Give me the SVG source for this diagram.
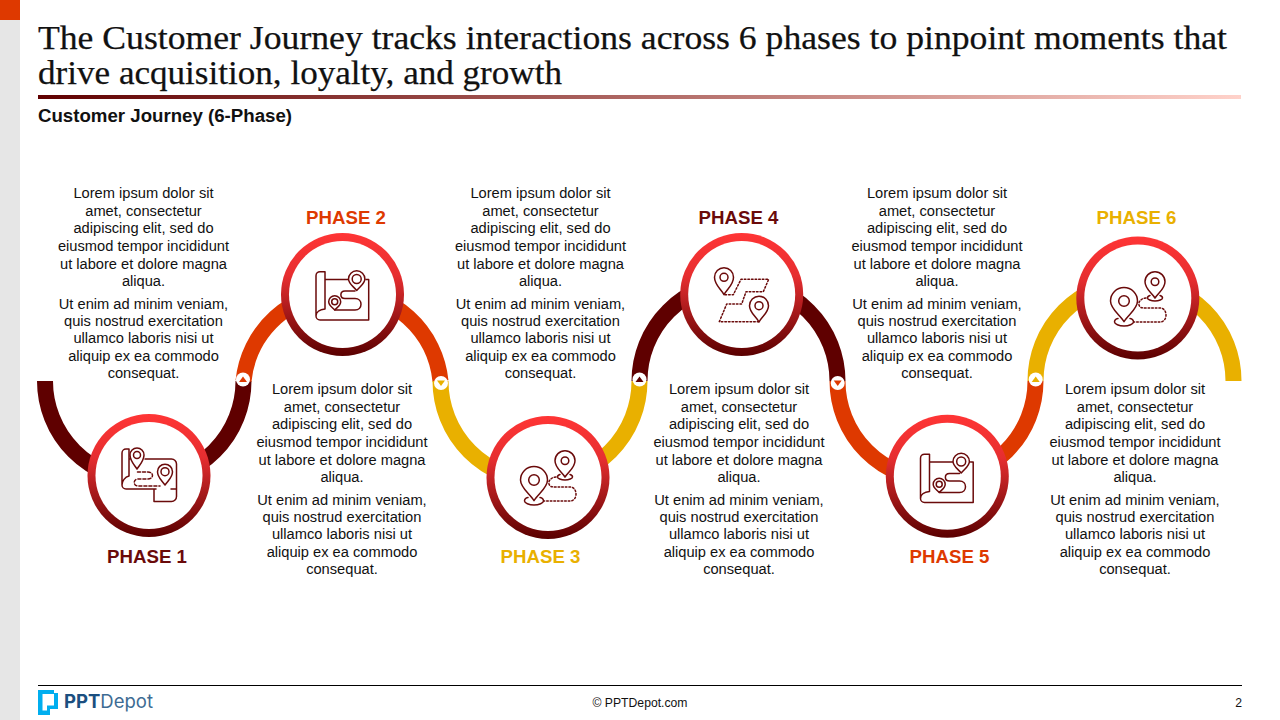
<svg xmlns="http://www.w3.org/2000/svg" xmlns:xlink="http://www.w3.org/1999/xlink" width="1280" height="720" viewBox="0 0 1280 720">
<style>
text{font-family:"Liberation Sans",Arial,sans-serif}
.title{font-family:"Liberation Serif","Times New Roman",serif;font-size:33.5px;fill:#111;stroke:#111;stroke-width:.25}
.sub{font-size:18.67px;font-weight:700;fill:#111}
.body{font-size:14.67px;fill:#111;text-anchor:middle}
.ph{font-size:18.67px;font-weight:700;text-anchor:middle}
.arc{fill:none;stroke-width:16}
.dark{stroke:#5f0000}.or{stroke:#de3900}.ye{stroke:#e9b000}
.ic{fill:none;stroke:#6a0a0a;stroke-width:1.5;stroke-linecap:round;stroke-linejoin:round}
.ds{stroke-dasharray:3 2}
.dt{stroke-dasharray:1.6 2}
.j{fill:#fff}
</style>
<defs>
<linearGradient id="rule" x1="0" x2="1" y1="0" y2="0"><stop offset="0" stop-color="#600000"/><stop offset="1" stop-color="#ffd2ca"/></linearGradient>
<linearGradient id="ring" x1="0" x2="0" y1="0" y2="1"><stop offset="0" stop-color="#ff3535"/><stop offset="0.35" stop-color="#e62e30"/><stop offset="1" stop-color="#5a0000"/></linearGradient>
<g id="disc"><circle r="61.5" fill="url(#ring)"/><circle r="53.500" fill="#fff"/></g>
<g id="mapPins">
<path class="ic" d="M325 279.500V271.700H320A4 4 0 0 0 316 275.700V316A4 4 0 0 0 320 320H368.700V279.500H366M348 279.500H325M325 279.500V309C320 309.500 316 312 316 316"/>
<path class="ic" d="M356.700 290.500C353 286 348.500 283.500 348.500 279A8.200 8.200 0 0 1 364.900 279C364.900 283.500 360.500 286 356.700 290.500Z"/><circle class="ic" cx="356.700" cy="279" r="4.500"/>
<path class="ic" d="M334.700 310C332 307 328.700 305.500 328.700 301.700A6 6 0 0 1 340.700 301.700C340.700 305.500 337.500 307 334.700 310Z"/><circle class="ic" cx="334.700" cy="301.700" r="3"/>
<path class="ic" d="M355 291H345C339.500 291 339.500 298.500 345 298.500H355C363 298.500 363 310 355 310H335"/>
</g>
<g id="twoPins">
<path class="ic" d="M534 500.700C530 494 520.500 488 520.500 480A13.500 13.500 0 0 1 547.500 480C547.500 488 538 494 534 500.700Z"/><circle class="ic" cx="534" cy="480" r="5.300"/>
<path class="ic" d="M528 497.500C525 498 524.500 500 524.500 501C524.500 503 529 505 534 505C539 505 543.500 503 543.500 501C543.500 500 543 498 540 497.500"/>
<path class="ic" d="M565 477C562 472 555 468 555 460.700A10 10 0 0 1 575 460.700C575 468 568 472 565 477Z"/><circle class="ic" cx="565" cy="460.700" r="3.800"/>
<path class="ic" d="M560 474.500C558 475 557.500 476 557.500 477C557.500 478.500 561 480 565 480C569 480 572.500 478.500 572.500 477C572.500 476 572 475 570 474.500"/>
<path class="ic dt" d="M556 477C551 477.500 548 481 549 484C550 487 552 487 556 487H570C578 487 578 501 570 501H544"/>
</g>
</defs>

<rect x="0" y="0" width="20" height="720" fill="#e6e6e6"/>
<rect x="0" y="0" width="20" height="20" fill="#de3900"/>
<text class="title" x="38" y="49" textLength="1189" lengthAdjust="spacingAndGlyphs">The Customer Journey tracks interactions across 6 phases to pinpoint moments that</text>
<text class="title" x="38" y="84" textLength="524" lengthAdjust="spacingAndGlyphs">drive acquisition, loyalty, and growth</text>
<rect x="38" y="95" width="1203" height="4" fill="url(#rule)"/>
<text class="sub" x="38" y="121.500">Customer Journey (6-Phase)</text>

<g id="connectors">
<path class="arc dark" d="M45 381A99 99 0 0 0 243.500 381"/>
<path class="arc or" d="M243.500 381A99 99 0 0 1 440.500 381"/>
<path class="arc ye" d="M440.500 381A99 99 0 0 0 639.500 381"/>
<path class="arc dark" d="M639.500 381A99 99 0 0 1 837.500 381"/>
<path class="arc or" d="M837.500 381A99 99 0 0 0 1035.500 381"/>
<path class="arc ye" d="M1035.500 381A99 99 0 0 1 1233.500 381"/>
<g id="junctions">
<circle class="j" cx="243" cy="379.500" r="7"/><path d="M243 376.500L247 382H239Z" fill="#de3900"/>
<circle class="j" cx="441" cy="383" r="7"/><path d="M441 386L445 380.500H437Z" fill="#e9b000"/>
<circle class="j" cx="639.500" cy="379.500" r="7"/><path d="M639.500 376.500L643.500 382H635.500Z" fill="#5f0000"/>
<circle class="j" cx="837.700" cy="383" r="7"/><path d="M837.700 386L841.700 380.500H833.700Z" fill="#de3900"/>
<circle class="j" cx="1035.700" cy="379.500" r="7"/><path d="M1035.700 376.500L1039.700 382H1031.700Z" fill="#e9b000"/>
</g>
</g>

<g id="node1">
<use href="#disc" x="149" y="475.500"/>
<path class="ic" d="M129 449V476C125 477 122 481 122 485A4 4 0 0 0 126 489H154V501.500H171.500A5 5 0 0 0 176.500 496.500V464A5 5 0 0 0 171.500 459H145M129 449H126A4 4 0 0 0 122 453V485M154 489H156M171 489H176.500M129 459H130"/>
<path class="ic" d="M137 469C134.500 465 130 461 130 455A7 7 0 0 1 144 455C144 461 139.500 465 137 469Z" fill="#fff"/><circle class="ic" cx="137" cy="455" r="3.500"/>
<path class="ic" d="M165 485C162 480.500 157.500 477.500 157.500 471.700A7.500 7.500 0 0 1 172.500 471.700C172.500 477.500 168 480.500 165 485Z"/><circle class="ic" cx="165" cy="471.700" r="4"/>
<path class="ic ds" d="M137.500 472H148C154 472 154 479 148 479H138C133 479 133 486 138 486H160"/>
<text class="ph" x="147" y="562.500" fill="#6a0a0a">PHASE 1</text>
</g>
<g id="node2">
<use href="#disc" x="342.500" y="294.500"/>
<use href="#mapPins"/>
<text class="ph" x="346" y="223.500" fill="#de3900">PHASE 2</text>
</g>
<g id="node3">
<use href="#disc" x="548" y="477.500"/>
<use href="#twoPins"/>
<text class="ph" x="540.500" y="562.500" fill="#e9b000">PHASE 3</text>
</g>
<g id="node4">
<use href="#disc" x="741.700" y="294.500"/>
<path class="ic" d="M724 294.700C721 289 714.500 285 714.500 277.300A9.500 9.500 0 0 1 733.500 277.300C733.500 285 727 289 724 294.700Z"/><circle class="ic" cx="724" cy="277.300" r="4"/>
<path class="ic" d="M759 322C756 316.500 749.500 312.500 749.500 305.700A9.500 9.500 0 0 1 768.500 305.700C768.500 312.500 762 316.500 759 322Z"/><circle class="ic" cx="759" cy="305.700" r="4"/>
<path class="ic dt" d="M725 294.700H733.300L741 279.300H768.700L763.300 291.700H746L741.700 304H726.700L719.300 321.700H759"/>
<text class="ph" x="738.500" y="223.500" fill="#6a0a0a">PHASE 4</text>
</g>
<g id="node5">
<use href="#disc" x="947.300" y="476.300"/>
<use href="#mapPins" x="604.500" y="182.500"/>
<text class="ph" x="949.500" y="562.500" fill="#de3900">PHASE 5</text>
</g>
<g id="node6">
<use href="#disc" x="1137.800" y="298"/>
<use href="#twoPins" x="590" y="-179"/>
<text class="ph" x="1136.500" y="223.500" fill="#e9b000">PHASE 6</text>
</g>

<g id="copy1">
<text class="body" x="143.500"><tspan x="143.500" y="198">Lorem ipsum dolor sit</tspan><tspan x="143.500" y="216">amet, consectetur</tspan><tspan x="143.500" y="233">adipiscing elit, sed do</tspan><tspan x="143.500" y="251">eiusmod tempor incididunt</tspan><tspan x="143.500" y="268.500">ut labore et dolore magna</tspan><tspan x="143.500" y="286">aliqua.</tspan><tspan x="143.500" y="308.500">Ut enim ad minim veniam,</tspan><tspan x="143.500" y="325.500">quis nostrud exercitation</tspan><tspan x="143.500" y="343">ullamco laboris nisi ut</tspan><tspan x="143.500" y="360.500">aliquip ex ea commodo</tspan><tspan x="143.500" y="378">consequat.</tspan></text>
</g>
<g id="copy2">
<text class="body"><tspan x="342" y="394">Lorem ipsum dolor sit</tspan><tspan x="342" y="412">amet, consectetur</tspan><tspan x="342" y="429">adipiscing elit, sed do</tspan><tspan x="342" y="447">eiusmod tempor incididunt</tspan><tspan x="342" y="464.500">ut labore et dolore magna</tspan><tspan x="342" y="482">aliqua.</tspan><tspan x="342" y="504.500">Ut enim ad minim veniam,</tspan><tspan x="342" y="521.500">quis nostrud exercitation</tspan><tspan x="342" y="539">ullamco laboris nisi ut</tspan><tspan x="342" y="556.500">aliquip ex ea commodo</tspan><tspan x="342" y="574">consequat.</tspan></text>
</g>
<g id="copy3">
<text class="body"><tspan x="540.500" y="198">Lorem ipsum dolor sit</tspan><tspan x="540.500" y="216">amet, consectetur</tspan><tspan x="540.500" y="233">adipiscing elit, sed do</tspan><tspan x="540.500" y="251">eiusmod tempor incididunt</tspan><tspan x="540.500" y="268.500">ut labore et dolore magna</tspan><tspan x="540.500" y="286">aliqua.</tspan><tspan x="540.500" y="308.500">Ut enim ad minim veniam,</tspan><tspan x="540.500" y="325.500">quis nostrud exercitation</tspan><tspan x="540.500" y="343">ullamco laboris nisi ut</tspan><tspan x="540.500" y="360.500">aliquip ex ea commodo</tspan><tspan x="540.500" y="378">consequat.</tspan></text>
</g>
<g id="copy4">
<text class="body"><tspan x="739" y="394">Lorem ipsum dolor sit</tspan><tspan x="739" y="412">amet, consectetur</tspan><tspan x="739" y="429">adipiscing elit, sed do</tspan><tspan x="739" y="447">eiusmod tempor incididunt</tspan><tspan x="739" y="464.500">ut labore et dolore magna</tspan><tspan x="739" y="482">aliqua.</tspan><tspan x="739" y="504.500">Ut enim ad minim veniam,</tspan><tspan x="739" y="521.500">quis nostrud exercitation</tspan><tspan x="739" y="539">ullamco laboris nisi ut</tspan><tspan x="739" y="556.500">aliquip ex ea commodo</tspan><tspan x="739" y="574">consequat.</tspan></text>
</g>
<g id="copy5">
<text class="body"><tspan x="937" y="198">Lorem ipsum dolor sit</tspan><tspan x="937" y="216">amet, consectetur</tspan><tspan x="937" y="233">adipiscing elit, sed do</tspan><tspan x="937" y="251">eiusmod tempor incididunt</tspan><tspan x="937" y="268.500">ut labore et dolore magna</tspan><tspan x="937" y="286">aliqua.</tspan><tspan x="937" y="308.500">Ut enim ad minim veniam,</tspan><tspan x="937" y="325.500">quis nostrud exercitation</tspan><tspan x="937" y="343">ullamco laboris nisi ut</tspan><tspan x="937" y="360.500">aliquip ex ea commodo</tspan><tspan x="937" y="378">consequat.</tspan></text>
</g>
<g id="copy6">
<text class="body"><tspan x="1135" y="394">Lorem ipsum dolor sit</tspan><tspan x="1135" y="412">amet, consectetur</tspan><tspan x="1135" y="429">adipiscing elit, sed do</tspan><tspan x="1135" y="447">eiusmod tempor incididunt</tspan><tspan x="1135" y="464.500">ut labore et dolore magna</tspan><tspan x="1135" y="482">aliqua.</tspan><tspan x="1135" y="504.500">Ut enim ad minim veniam,</tspan><tspan x="1135" y="521.500">quis nostrud exercitation</tspan><tspan x="1135" y="539">ullamco laboris nisi ut</tspan><tspan x="1135" y="556.500">aliquip ex ea commodo</tspan><tspan x="1135" y="574">consequat.</tspan></text>
</g>

<g id="footer">
<rect x="38" y="685" width="1204" height="1" fill="#000"/>
<path d="M38 690H54V693H58V709H50V715H38ZM42.500 694V710.500H47V705.500H54V694Z" fill="#00aeef" fill-rule="evenodd"/>
<text x="64" y="708" font-size="18.500" font-weight="700" fill="#1b4f80" style="font-family:Inter,'Liberation Sans',sans-serif">PPT<tspan font-weight="400" fill="#3d6b93">Depot</tspan></text>
<text x="640" y="707" font-size="12.200" text-anchor="middle" fill="#111">© PPTDepot.com</text>
<text x="1242" y="707" font-size="12.200" text-anchor="end" fill="#111">2</text>
</g>
</svg>
